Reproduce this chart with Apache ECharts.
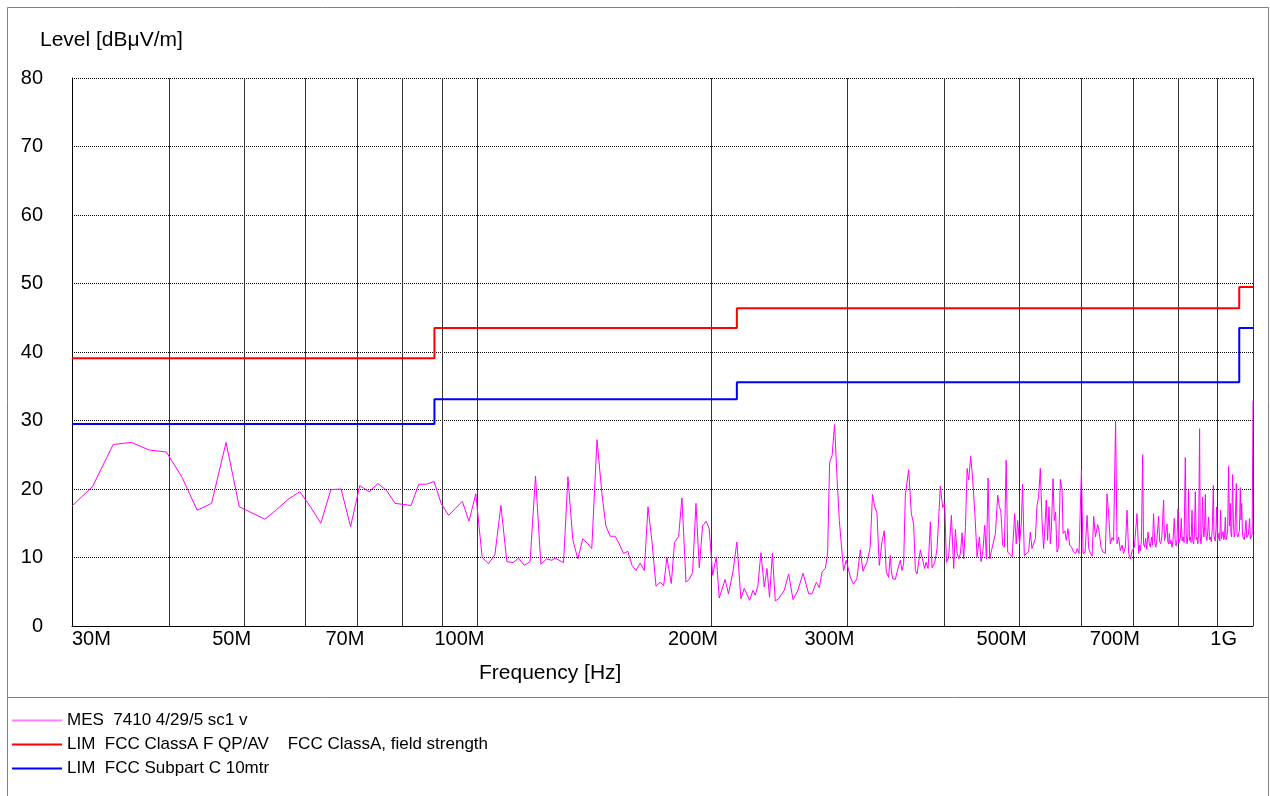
<!DOCTYPE html>
<html>
<head>
<meta charset="utf-8">
<script src="https://cdn.jsdelivr.net/npm/echarts@6/dist/echarts.min.js"></script>
<style>
  html, body { margin: 0; padding: 0; background: #fff; }
  #chart { width: 1270px; height: 796px; }
</style>
</head>
<body>
<div id="chart"></div>
<script>
// measured trace, frequency in MHz, level in dBuV/m
const mesFreq = [
  30.0, 31.9, 33.9, 35.8, 37.7, 39.7, 41.6, 43.5, 45.4, 47.4, 49.3, 51.2, 53.2, 55.1, 57.0, 59.0,
  60.9, 62.8, 64.7, 66.7, 68.6, 70.5, 72.5, 74.4, 76.3, 78.3, 80.2, 82.1, 84.0, 86.0, 87.9, 89.8,
  91.8, 93.7, 95.6, 97.5, 99.5, 101.4, 103.3, 105.3, 107.2, 109.1, 111.1, 113.0, 114.9, 116.9, 118.8, 120.7,
  122.7, 124.6, 126.0, 129.1, 130.8, 132.7, 134.7, 136.7, 138.8, 140.4, 142.6, 144.7, 146.4, 148.3, 150.5, 152.3,
  154.3, 156.3, 158.2, 160.1, 162.1, 164.1, 165.9, 167.9, 169.9, 172.0, 173.8, 175.5, 177.8, 179.5, 181.7, 183.5,
  185.7, 187.5, 189.4, 191.3, 193.2, 195.1, 197.2, 199.0, 201.0, 203.2, 205.0, 208.6, 210.7, 213.5, 216.0, 218.6,
  220.8, 224.3, 226.6, 228.1, 229.9, 232.0, 234.3, 236.2, 238.0, 240.0, 242.1, 244.5, 248.6, 251.9, 255.2, 258.7,
  262.9, 267.3, 270.0, 273.5, 275.9, 278.2, 280.9, 282.8, 284.5, 286.6, 288.7, 290.8, 292.8, 294.3, 296.5, 298.9,
  302.5, 305.4, 308.5, 311.6, 314.1, 317.8, 320.9, 323.1, 325.1, 327.4, 329.7, 332.3, 334.6, 336.6, 338.9, 340.6,
  341.7, 343.0, 345.8, 347.6, 350.9, 352.7, 354.4, 356.2, 359.7, 362.6, 365.1, 367.0, 368.8, 372.4, 375.0, 377.3,
  378.8, 381.1, 383.7, 385.6, 388.6, 391.4, 395.2, 398.0, 400.4, 402.4, 405.0, 408.4, 411.2, 413.3, 415.4, 417.5,
  419.5, 421.6, 423.6, 425.8, 427.9, 429.9, 432.5, 435.1, 437.9, 440.8, 443.8, 446.0, 448.5, 450.9, 453.2, 455.4,
  457.6, 460.0, 462.5, 465.4, 468.6, 470.9, 473.0, 475.6, 478.0, 480.5, 482.7, 485.5, 489.1, 492.8, 495.1, 497.1,
  500.0, 502.6, 504.5, 507.1, 510.0, 513.6, 516.2, 518.8, 521.5, 524.0, 526.6, 529.1, 531.8, 534.5, 537.0, 539.0,
  541.3, 543.4, 545.7, 547.8, 549.5, 552.3, 554.3, 556.5, 558.8, 561.5, 564.4, 567.3, 569.0, 572.0, 574.5, 577.4,
  580.2, 583.5, 587.1, 590.6, 593.5, 596.6, 600.8, 603.8, 607.4, 611.0, 614.0, 617.1, 620.2, 623.1, 626.3, 630.6,
  633.8, 636.8, 640.5, 645.0, 648.3, 651.4, 654.7, 658.0, 661.0, 665.0, 667.8, 671.0, 674.5, 678.0, 681.0, 684.5,
  688.0, 691.3, 694.8, 698.5, 703.0, 708.7, 712.1, 714.0, 715.7, 718.0, 720.6, 722.5, 724.9, 727.0, 729.5, 732.2,
  735.0, 737.3, 740.0, 742.0, 744.4, 747.0, 749.5, 752.0, 755.6, 758.0, 760.5, 763.0, 766.9, 768.8, 770.8, 774.7,
  776.5, 778.4, 780.0, 782.0, 784.0, 786.2, 788.5, 791.6, 794.0, 796.0, 798.0, 800.4, 802.0, 804.0, 806.0, 808.2,
  810.3, 812.5, 815.0, 817.9, 820.0, 822.1, 824.0, 825.9, 828.0, 830.0, 832.0, 834.3, 836.3, 838.5, 840.5, 842.6,
  844.8, 847.0, 849.0, 851.0, 853.4, 855.0, 856.9, 859.0, 861.0, 862.8, 864.5, 866.2, 868.0, 870.0, 872.0, 874.0,
  876.5, 878.8, 881.0, 883.5, 886.0, 888.9, 890.5, 892.0, 894.0, 895.9, 897.8, 900.0, 902.0, 904.0, 906.0, 908.3,
  910.5, 913.0, 915.0, 917.0, 919.0, 921.2, 923.0, 925.0, 927.5, 930.1, 932.4, 934.8, 936.5, 938.6, 941.2, 943.5,
  946.0, 948.0, 951.7, 953.6, 956.0, 958.0, 960.5, 963.0, 965.0, 967.0, 969.5, 972.0, 974.5, 976.8, 979.5, 981.7,
  984.0, 986.5, 989.9, 992.3, 995.0, 997.5, 1000.0
];
const mesLevel = [
  17.5, 20.4, 26.5, 26.8, 25.7, 25.4, 21.7, 16.9, 17.9, 26.8, 17.4, 16.5, 15.6, 17.0, 18.5, 19.6,
  17.4, 15.0, 19.9, 20.0, 14.5, 20.5, 19.6, 20.8, 19.8, 17.9, 17.75, 17.6, 20.7, 20.7, 21.1, 17.85,
  16.15, 17.2, 18.2, 15.3, 19.3, 10.0, 9.1, 10.4, 17.6, 9.4, 9.25, 9.9, 8.85, 9.4, 21.9, 9.0,
  9.8, 9.6, 9.9, 9.25, 21.8, 12.6, 9.8, 12.75, 12.0, 11.3, 27.2, 19.3, 14.6, 13.1, 13.1, 12.0,
  10.6, 10.9, 8.85, 8.1, 9.2, 8.1, 17.4, 12.25, 5.8, 6.4, 5.9, 10.0, 6.2, 12.2, 13.1, 18.7,
  6.4, 6.8, 7.8, 17.9, 8.5, 14.6, 15.3, 14.2, 7.4, 10.1, 4.1, 6.8, 4.7, 7.9, 12.25, 4.0,
  5.5, 3.75, 5.2, 4.5, 5.9, 10.7, 5.7, 8.4, 4.2, 10.6, 3.65, 4.0, 5.2, 7.6, 3.85, 5.1,
  7.7, 4.7, 4.7, 6.4, 5.6, 7.9, 8.4, 10.6, 23.9, 24.9, 29.4, 21.7, 15.4, 15.2, 8.1, 9.6,
  7.15, 6.1, 6.9, 11.1, 8.0, 9.3, 11.5, 19.2, 17.5, 16.5, 8.85, 12.25, 13.9, 7.9, 7.1, 10.3,
  8.1, 6.9, 6.8, 7.9, 9.6, 8.1, 9.1, 19.1, 22.8, 16.4, 14.9, 8.1, 7.6, 11.1, 9.6, 8.4,
  9.3, 8.4, 15.2, 8.5, 9.2, 11.3, 20.4, 17.3, 17.9, 9.3, 10.0, 16.15, 8.4, 14.1, 10.6, 9.8,
  10.6, 13.6, 9.8, 14.4, 23.0, 21.3, 24.8, 21.3, 16.4, 10.1, 13.0, 9.4, 11.0, 14.7, 9.8, 21.6,
  9.8, 11.0, 10.8, 13.5, 19.1, 17.4, 16.8, 11.8, 11.5, 24.2, 10.8, 10.8, 10.1, 16.4, 12.0, 15.4,
  12.0, 14.9, 20.7, 10.3, 10.4, 10.8, 13.7, 11.3, 11.1, 12.75, 17.6, 18.8, 23.0, 15.4, 11.3, 14.2,
  18.4, 12.5, 17.4, 12.0, 14.0, 21.5, 15.4, 16.6, 10.8, 11.5, 21.4, 19.8, 13.5, 13.9, 12.5, 14.2,
  11.8, 11.5, 10.8, 10.6, 11.3, 10.6, 22.7, 10.6, 10.8, 16.15, 11.3, 10.6, 10.2, 16.0, 13.0, 14.8,
  13.5, 11.5, 10.8, 10.6, 19.3, 16.4, 12.0, 12.9, 12.5, 29.9, 12.0, 13.0, 11.0, 11.8, 10.6, 11.5,
  16.9, 10.6, 9.8, 11.0, 11.5, 16.4, 10.6, 11.8, 11.0, 12.5, 25.0, 12.0, 11.5, 12.8, 11.2, 13.7,
  12.0, 11.5, 13.0, 11.8, 16.4, 12.2, 11.5, 12.8, 16.0, 12.3, 12.0, 13.2, 18.4, 12.5, 13.0, 14.9,
  12.3, 12.0, 13.5, 12.0, 12.5, 11.5, 12.4, 15.7, 12.0, 11.7, 12.6, 17.1, 12.0, 11.8, 12.9, 15.7,
  12.4, 13.0, 12.2, 24.6, 13.5, 12.0, 13.0, 19.8, 12.5, 13.0, 12.2, 16.9, 12.4, 12.0, 13.5, 19.6,
  12.6, 13.0, 12.0, 13.8, 28.8, 13.0, 12.0, 13.5, 18.8, 14.0, 13.0, 14.5, 19.2, 13.2, 12.5, 13.6,
  15.9, 12.6, 13.0, 12.3, 14.0, 20.5, 13.2, 13.0, 12.4, 14.2, 17.4, 12.5, 12.8, 13.6, 12.4, 16.9,
  12.7, 12.5, 13.8, 12.6, 13.2, 15.9, 12.6, 13.0, 14.0, 23.3, 14.6, 17.9, 13.5, 13.0, 22.1, 15.0,
  13.0, 14.0, 20.8, 13.4, 13.0, 12.8, 14.0, 20.2, 15.5, 17.9, 13.2, 13.0, 12.6, 13.8, 15.4, 12.9,
  12.8, 13.4, 15.7, 12.7, 12.6, 13.4, 32.9
];

// limit lines, level holds until the next break frequency
const limFreq = [30, 88, 216, 960, 1000];
const classALevel = [39.1, 43.5, 46.4, 49.5, 49.5];
const subpartCLevel = [29.5, 33.1, 35.6, 43.5, 43.5];

const gridFreqs = [30, 40, 50, 60, 70, 80, 90, 100, 200, 300, 400, 500, 600, 700, 800, 900, 1000];
const labelFreqs = [30, 50, 70, 100, 200, 300, 500, 700, 1000];

const seriesNames = [
    'MES  7410 4/29/5 sc1 v',
    'LIM  FCC ClassA F QP/AV    FCC ClassA, field strength',
    'LIM  FCC Subpart C 10mtr'
];

const FONT = '"Liberation Sans", Arial, Helvetica, sans-serif';
const lg = Math.log10;
const pairs = (fs, vs) => fs.map((f, i) => [lg(f), vs[i]]);

const chart = echarts.init(document.getElementById('chart'));

chart.setOption({
    animation: false,
    backgroundColor: '#fff',
    textStyle: { fontFamily: FONT },
    grid: {
        left: 72,
        right: 17,
        top: 78,
        bottom: 170
    },
    xAxis: {
        type: 'value',
        min: lg(30),
        max: 3,
        axisLine: { show: true, lineStyle: { color: '#000', width: 1 } },
        axisTick: { show: false, customValues: gridFreqs.map(lg) },
        splitLine: {
            show: true,
            lineStyle: { color: '#333', width: 1, type: 'solid' }
        },
        axisLabel: {
            customValues: labelFreqs.map(lg),
            fontSize: 20,
            color: '#000',
            fontFamily: FONT,
            margin: 3,
            align: 'right',
            alignMinLabel: 'left',
            padding: [0, -7, 0, 0],
            formatter: (v) => {
                const f = Math.round(Math.pow(10, v))
                return f >= 1000 ? '{g|1G}' : f + 'M'
            },
            rich: {
                g: { fontSize: 20, color: '#000', fontFamily: FONT, padding: [0, 23, 0, 0] }
            }
        }
    },
    yAxis: {
        type: 'value',
        min: 0,
        max: 80,
        interval: 10,
        axisLine: { show: true, lineStyle: { color: '#000', width: 1 } },
        axisTick: { show: false },
        splitLine: {
            show: true,
            lineStyle: { color: '#000', width: 1, type: [1, 1] }
        },
        axisLabel: {
            fontSize: 20,
            color: '#000',
            fontFamily: FONT,
            margin: 29
        }
    },
    legend: {
        orient: 'vertical',
        left: 12,
        top: 712,
        padding: 0,
        icon: 'rect',
        itemWidth: 50,
        itemHeight: 2,
        itemGap: 7,
        textStyle: { fontSize: 17, color: '#000', fontFamily: FONT },
        data: [
            { name: seriesNames[0], itemStyle: { color: '#ff80ff' } },
            { name: seriesNames[1] },
            { name: seriesNames[2] }
        ]
    },
    graphic: [
        { type: 'line', silent: true, shape: { x1: 7.5, y1: 7.5, x2: 1268.5, y2: 7.5 }, style: { stroke: '#808080', lineWidth: 1 } },
        { type: 'line', silent: true, shape: { x1: 7.5, y1: 7.5, x2: 7.5, y2: 796 }, style: { stroke: '#808080', lineWidth: 1 } },
        { type: 'line', silent: true, shape: { x1: 1268.5, y1: 7.5, x2: 1268.5, y2: 796 }, style: { stroke: '#808080', lineWidth: 1 } },
        { type: 'line', silent: true, shape: { x1: 7.5, y1: 697.5, x2: 1268.5, y2: 697.5 }, style: { stroke: '#808080', lineWidth: 1 } },
        { type: 'text', left: 40, top: 29.5, silent: true, style: { text: 'Level [dBμV/m]', fontSize: 21, fill: '#000', fontFamily: FONT } },
        { type: 'text', left: 479, top: 662.5, silent: true, style: { text: 'Frequency [Hz]', fontSize: 21, fill: '#000', fontFamily: FONT } }
    ],
    series: [
        {
            name: seriesNames[0],
            type: 'line',
            data: pairs(mesFreq, mesLevel),
            symbol: 'none',
            lineStyle: { color: '#ff00ff', width: 1 },
            itemStyle: { color: '#ff00ff' },
            z: 4
        },
        {
            name: seriesNames[1],
            type: 'line',
            step: 'end',
            data: pairs(limFreq, classALevel),
            symbol: 'none',
            lineStyle: { color: '#ff0000', width: 2 },
            itemStyle: { color: '#ff0000' },
            z: 3
        },
        {
            name: seriesNames[2],
            type: 'line',
            step: 'end',
            data: pairs(limFreq, subpartCLevel),
            symbol: 'none',
            lineStyle: { color: '#0000ff', width: 2 },
            itemStyle: { color: '#0000ff' },
            z: 3
        }
    ]
})

window.addEventListener('resize', () => {
    chart.resize()
})
</script>
</body>
</html>
